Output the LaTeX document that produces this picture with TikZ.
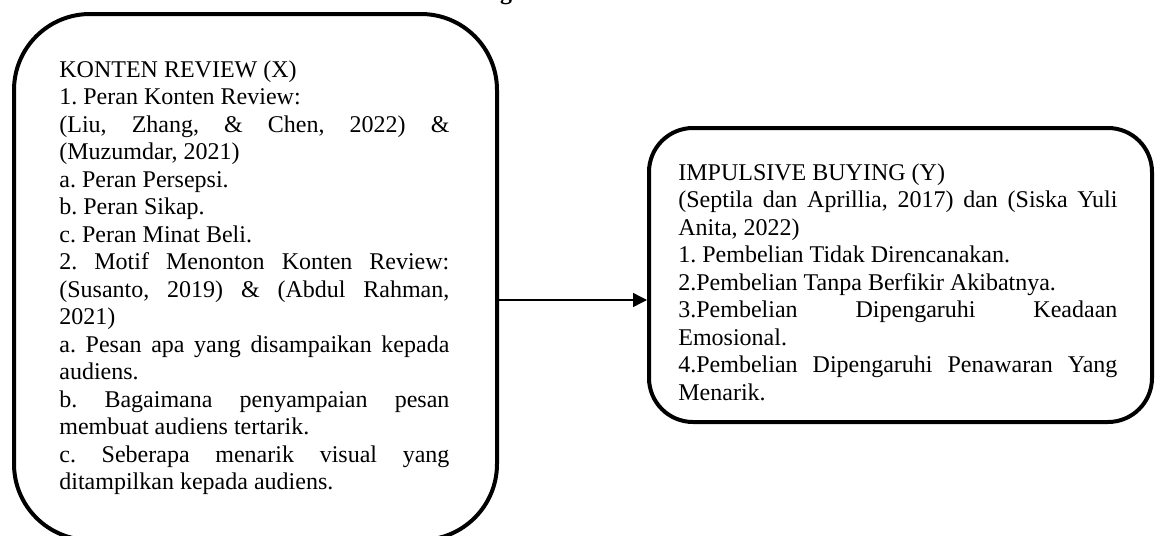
\documentclass[tikz,border=0pt]{standalone}
\usepackage{fontspec}
\setmainfont{Liberation Serif}
\usetikzlibrary{arrows.meta,positioning}
\setlength{\parindent}{0pt}
\hyphenpenalty=10000
\exhyphenpenalty=10000
\frenchspacing

\begin{document}
\begin{tikzpicture}[
  x=0.5pt, y=-0.5pt,
  font=\fontsize{12}{13.75}\selectfont,
  >={Triangle[length=7pt,width=7pt]},
  kotak/.style={draw, line width=2pt, inner sep=0pt},
  isi/.style={anchor=north west, inner sep=0pt, align=justify},
  panah/.style={->, line width=0.7pt},
]
\useasboundingbox (0,0) rectangle (1158,536);
% Title (cut off at the top)
\node[font=\fontsize{12}{13.75}\selectfont\bfseries, anchor=base, inner sep=0pt] (judul) at (506,-1) {g};
% Variable X
\node[kotak, rounded corners=38pt, minimum width=241.5pt, minimum height=263pt] (konten) at (255.5,277) {};
\node[isi, text width=195pt] (kontenisi) at (59,60) {\frenchspacing KONTEN REVIEW (X)\par
1. Peran Konten Review:\par
(Liu, Zhang, \& Chen, 2022) \&\linebreak (Muzumdar, 2021)\par
a. Peran Persepsi.\par
b. Peran Sikap.\par
c. Peran Minat Beli.\par
2. Motif Menonton Konten Review:\linebreak (Susanto, 2019) \& (Abdul Rahman,\linebreak 2021)\par
a. Pesan apa yang disampaikan kepada\linebreak audiens.\par
b. Bagaimana penyampaian pesan\linebreak membuat audiens tertarik.\par
c. Seberapa menarik visual yang\linebreak ditampilkan kepada audiens.};
% Variable Y
\node[kotak, rounded corners=22pt, minimum width=251.5pt, minimum height=147pt] (impulsif) at (900.5,275) {};
\node[isi, text width=219.5pt] (impulsifisi) at (678,163) {\frenchspacing IMPULSIVE BUYING (Y)\par
(Septila dan Aprillia, 2017) dan (Siska Yuli\linebreak Anita, 2022)\par
1. Pembelian Tidak Direncanakan.\par
2.Pembelian Tanpa Berfikir Akibatnya.\par
3.Pembelian Dipengaruhi Keadaan\linebreak Emosional.\par
4.Pembelian Dipengaruhi Penawaran Yang\linebreak Menarik.};
% X -> Y
\draw[panah] ([yshift=-11.5pt]konten.east) -- ([yshift=-11.5pt]konten.east -| impulsif.west);
\end{tikzpicture}
\end{document}
